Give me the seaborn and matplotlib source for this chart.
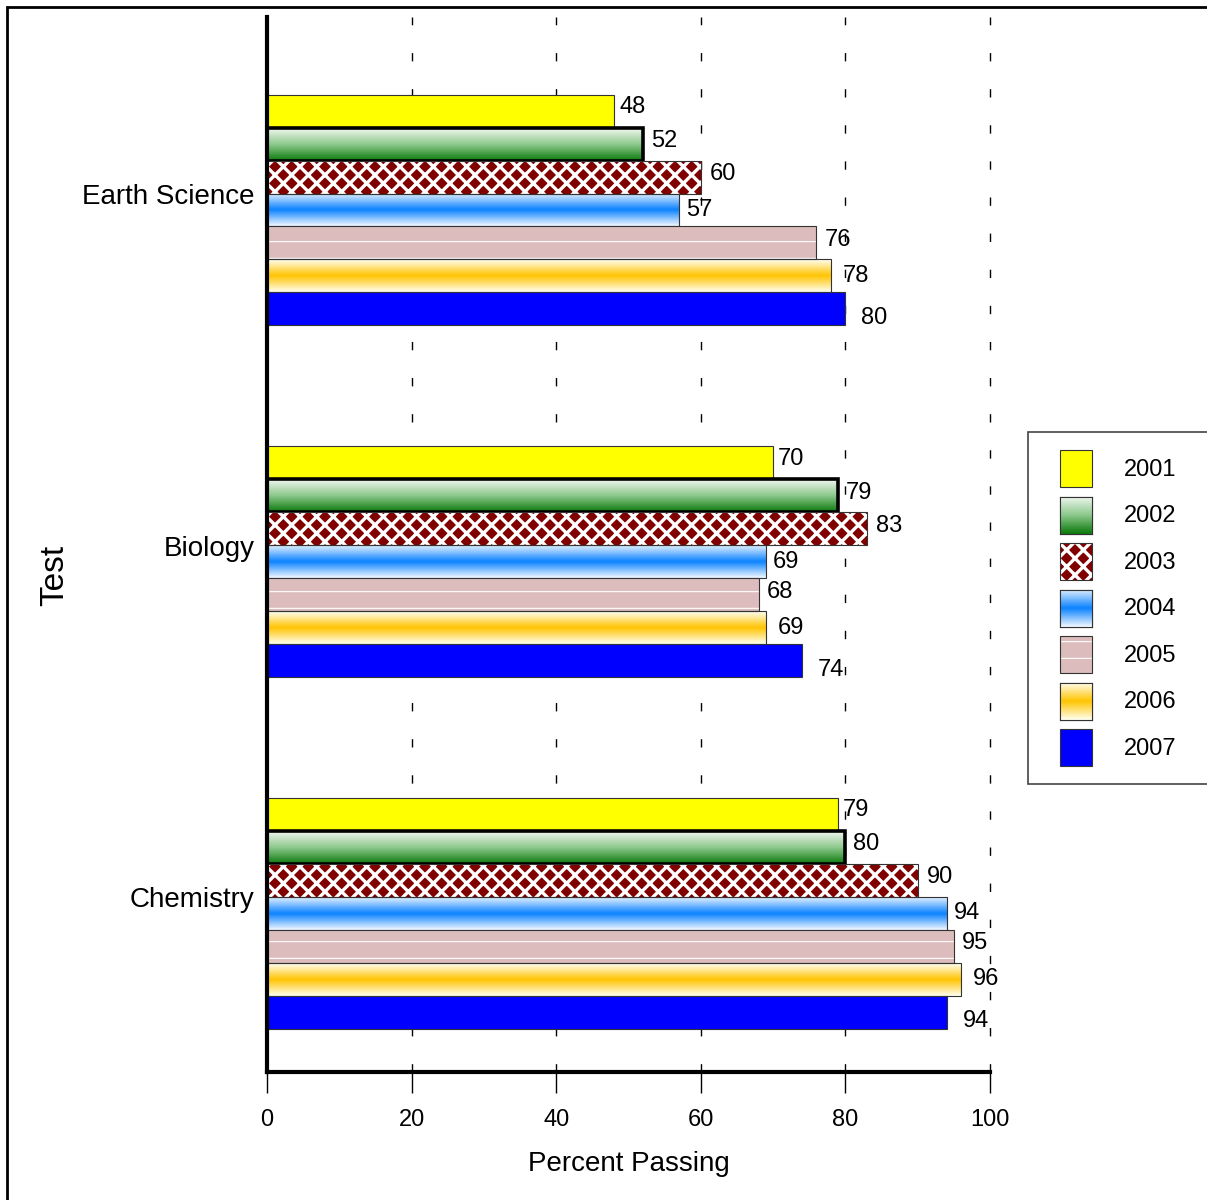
import numpy as np
import pandas as pd
import matplotlib
matplotlib.use("Agg")
import matplotlib.pyplot as plt
import matplotlib.transforms as mtransforms
import seaborn as sns
from matplotlib.patches import Rectangle, Patch
from matplotlib.legend_handler import HandlerPatch
from matplotlib.colors import LinearSegmentedColormap

# ---------------- data ----------------
tests = ["Earth Science", "Biology", "Chemistry"]
years = ["2001", "2002", "2003", "2004", "2005", "2006", "2007"]
v2001 = [48, 70, 79]
v2002 = [52, 79, 80]
v2003 = [60, 83, 90]
v2004 = [57, 69, 94]
v2005 = [76, 68, 95]
v2006 = [78, 69, 96]
v2007 = [80, 74, 94]
x_ticks = [0, 20, 40, 60, 80, 100]
x_title = "Percent Passing"
y_title = "Test"

series = [v2001, v2002, v2003, v2004, v2005, v2006, v2007]
df = pd.DataFrame(
    [(t, y, s[i]) for y, s in zip(years, series) for i, t in enumerate(tests)],
    columns=["test", "year", "value"],
)

# ---------------- styles ----------------
base_colors = {"2001": "#ffff00", "2002": "#3c9a3c", "2003": "#800000",
               "2004": "#0a82ff", "2005": "#dcbcbc", "2006": "#ffc800",
               "2007": "#0000ff"}
gradients = {
    "2002": LinearSegmentedColormap.from_list("g", ["#f0f8f0", "#8cc88c", "#0c7a0c"]),
    "2004": LinearSegmentedColormap.from_list("b", ["#e2f0ff", "#0a82ff", "#f2f8ff"]),
    "2006": LinearSegmentedColormap.from_list("o", ["#fffff4", "#ffc400", "#fffff0"]),
}
hatches = {"2003": "xx", "2005": "-"}
hatch_lw = {"2003": 2.4, "2005": 0.8}
edge_w = {"2002": 2.6}
# value-label offsets in pixels (dx right, dy down) per series
label_dx = {"2001": 5, "2002": 8, "2003": 9, "2004": 7, "2005": 8, "2006": 12, "2007": 16}
label_dy = {"2001": -4, "2002": -3, "2003": -3, "2004": 0, "2005": -3, "2006": 0, "2007": 9}

sns.set_theme(style="white")
plt.rcParams["font.family"] = ["Liberation Sans", "DejaVu Sans"]
plt.rcParams["hatch.linewidth"] = 2.4
for k in ["text.color", "axes.labelcolor", "xtick.color", "ytick.color"]:
    plt.rcParams[k] = "black"

fig = plt.figure(figsize=(12.07, 12.0), dpi=100)
ax = fig.add_axes([267 / 1207, 1 - 1072 / 1200, 723 / 1207, 1055 / 1200])

sns.barplot(data=df, x="value", y="test", hue="year", order=tests,
            hue_order=years, palette=base_colors, orient="y", width=0.657,
            dodge=True, legend=False, ax=ax, edgecolor="#333333",
            linewidth=0.8, saturation=1, errorbar=None)


def set_hatch_style(p, c, lw):
    if hasattr(p, "set_hatchcolor"):
        try:
            p.set_hatchcolor(c)
        except Exception:
            p._hatch_color = matplotlib.colors.to_rgba(c)
    else:
        p._hatch_color = matplotlib.colors.to_rgba(c)
    if hasattr(p, "set_hatch_linewidth"):
        try:
            p.set_hatch_linewidth(lw)
        except Exception:
            p._hatch_linewidth = lw
    else:
        p._hatch_linewidth = lw


grad = np.linspace(0, 1, 64).reshape(-1, 1)
for year, cont, vals in zip(years, ax.containers, series):
    for p, v in zip(cont.patches, vals):
        p.set_zorder(3)
        p.set_edgecolor("black" if year == "2002" else "#333333")
        p.set_linewidth(edge_w.get(year, 0.8))
        if year in hatches:
            p.set_hatch(hatches[year])
            set_hatch_style(p, "white", hatch_lw[year])
        if year in gradients:
            x0, y0, w, h = p.get_x(), p.get_y(), p.get_width(), p.get_height()
            im = ax.imshow(grad, cmap=gradients[year], aspect="auto",
                           extent=(x0, x0 + w, y0 + h, y0), origin="upper",
                           zorder=2.5, interpolation="bicubic")
            im.set_clip_path(p)
            p.set_facecolor("none")
        ax.annotate(f"{v}", xy=(v, p.get_y() + p.get_height() / 2),
                    xytext=(label_dx[year] * 0.72, -label_dy[year] * 0.72),
                    textcoords="offset points", ha="left", va="center",
                    fontsize=17, zorder=6)

# ---------------- axes ----------------
ax.set_xlim(0, 100)
ax.set_ylim(2.452, -0.549)
ax.set_xticks(x_ticks)
ax.set_xticklabels([str(t) for t in x_ticks])
ax.tick_params(axis="x", bottom=True, direction="out", length=15, width=1,
               color="black", pad=12, labelsize=17)
ax.tick_params(axis="y", left=False, length=0, pad=9, labelsize=20)
shift = mtransforms.ScaledTranslation(0, 16 / 100, fig.dpi_scale_trans)
for lab in ax.get_yticklabels():
    lab.set_transform(lab.get_transform() + shift)
for s in ["top", "right"]:
    ax.spines[s].set_visible(False)
for s in ["left", "bottom"]:
    ax.spines[s].set_linewidth(3)
    ax.spines[s].set_color("black")
    ax.spines[s].set_zorder(7)
ax.set_axisbelow(True)
ax.xaxis.grid(True, color="black", linestyle=(0, (6, 20)), linewidth=1)
ax.yaxis.grid(False)
for gl in ax.get_xgridlines():
    gl.set_clip_on(False)
ax.set_xlabel(x_title, fontsize=20, labelpad=14)
ax.set_ylabel(y_title, fontsize=24)
ax.yaxis.set_label_coords(-0.272, 0.471)

# ---------------- legend ----------------
FS = 17
em = FS * 100 / 72
offset_px = 14


def make_patch(legend, orig_handle, xdescent, ydescent, width, height, fontsize):
    off = offset_px * 72 / 100
    return Rectangle((-xdescent + off, -ydescent), width - off, height)


handles = []
for y in years:
    handles.append(Patch(facecolor=base_colors[y], edgecolor="#333333",
                         linewidth=0.8, hatch=hatches.get(y)))
leg = fig.legend(handles, years, loc="upper left",
                 bbox_to_anchor=(1028 / 1207, 1 - 432 / 1200),
                 fontsize=FS, handlelength=(32 + offset_px) / em,
                 handleheight=2.034, labelspacing=9.5 / em,
                 handletextpad=32 / em, borderpad=18 / em, borderaxespad=0,
                 frameon=False,
                 handler_map={Patch: HandlerPatch(patch_func=make_patch)})
for y, p in zip(years, leg.get_patches()):
    if p.get_hatch():
        set_hatch_style(p, "white", hatch_lw[y])

fig.canvas.draw()
renderer = fig.canvas.get_renderer()
W, H = fig.bbox.width, fig.bbox.height

# legend frame, running off the right edge like the original
lb = leg.get_window_extent(renderer)
fig.patches.append(Rectangle((lb.x0 / W, lb.y0 / H), 1.0, lb.height / H,
                             transform=fig.transFigure, facecolor="white",
                             edgecolor="#444444", linewidth=1.2, zorder=1))

for y, p in zip(years, leg.get_patches()):
    if y in gradients:
        bb = p.get_window_extent(renderer)
        gax = fig.add_axes([bb.x0 / W, bb.y0 / H, bb.width / W, bb.height / H],
                           zorder=10)
        gax.imshow(grad, cmap=gradients[y], aspect="auto",
                   interpolation="bicubic")
        gax.set_xticks([])
        gax.set_yticks([])
        for s in gax.spines.values():
            s.set_visible(True)
            s.set_color("#333333")
            s.set_linewidth(0.8)

# outer frame
fig.patches.append(Rectangle((7 / 1207, -0.05), 1.2, 1 - 7 / 1200 + 0.05,
                             transform=fig.transFigure, fill=False,
                             linewidth=2, edgecolor="black", zorder=2))

fig.savefig("out.png", dpi=100)
